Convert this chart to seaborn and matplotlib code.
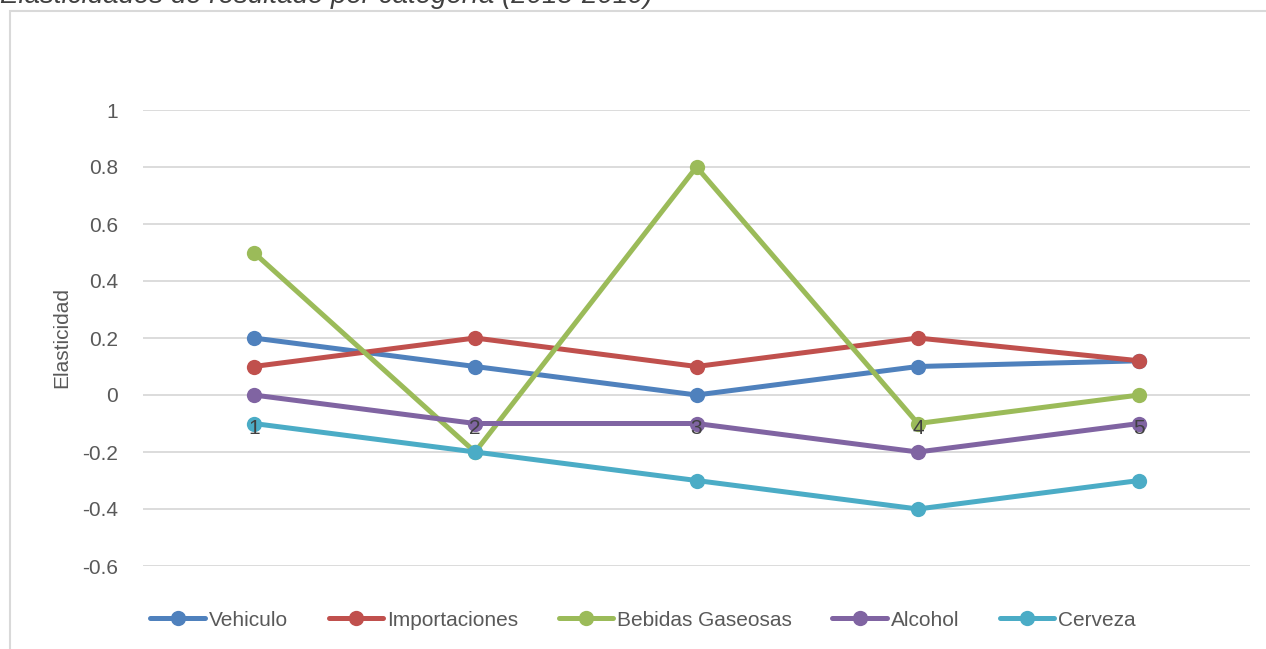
import pandas as pd
import matplotlib.pyplot as plt
import seaborn as sns
from matplotlib.patches import Rectangle

# === DATA ===
periodos = [1, 2, 3, 4, 5]
vehiculo = [0.2, 0.1, 0.0, 0.1, 0.12]
importaciones = [0.1, 0.2, 0.1, 0.2, 0.12]
bebidas = [0.5, -0.2, 0.8, -0.1, 0.0]
alcohol = [0.0, -0.1, -0.1, -0.2, -0.1]
cerveza = [-0.1, -0.2, -0.3, -0.4, -0.3]

series = ['Vehiculo', 'Importaciones', 'Bebidas Gaseosas', 'Alcohol', 'Cerveza']
colores = ['#4F81BD', '#C0504D', '#9BBB59', '#8064A2', '#4BACC6']
y_ticks = [-0.6, -0.4, -0.2, 0, 0.2, 0.4, 0.6, 0.8, 1]
y_labels = ['-0.6', '-0.4', '-0.2', '0', '0.2', '0.4', '0.6', '0.8', '1']

df = pd.DataFrame({
    'Periodo': periodos * 5,
    'Elasticidad': vehiculo + importaciones + bebidas + alcohol + cerveza,
    'Serie': [s for s in series for _ in periodos],
})

# === PLOT ===
sns.set_style('white')
plt.rcParams['font.family'] = ['Liberation Sans', 'DejaVu Sans']

fig = plt.figure(figsize=(12.66, 6.49), dpi=100)
ax = fig.add_axes([143 / 1266, 1 - 566 / 649, (1250 - 143) / 1266, (566 - 110) / 649])

# chart border (light gray frame)
fig.patches.append(Rectangle((9.5 / 1266, -0.1), 1.2, 1 - 11 / 649 + 0.1,
                             transform=fig.transFigure, fill=False,
                             edgecolor='#D9D9D9', linewidth=1.5, zorder=0))

# title, cut off by the top edge as in the source image
fig.text(0.0, 1 - 3 / 649, 'Elasticidades de resultado por categoría (2015-2019)',
         fontsize=20, style='italic', color='#404040', ha='left', va='baseline')

sns.lineplot(data=df, x='Periodo', y='Elasticidad', hue='Serie', hue_order=series,
             palette=colores, marker='o', markersize=11, markeredgewidth=0,
             linewidth=3.6, ax=ax, legend=False)

ax.set_xlim(0.5, 5.5)
ax.set_ylim(-0.6, 1.0)
ax.set_yticks(y_ticks)
ax.set_yticklabels(y_labels)
ax.set_xticks([])
ax.set_xlabel('')
ax.set_ylabel('Elasticidad', fontsize=15, color='#595959', labelpad=8)
ax.tick_params(axis='y', labelsize=15, labelcolor='#595959', length=0, pad=18)
ax.grid(axis='y', color='#D9D9D9', linewidth=1.3)
ax.set_axisbelow(True)
for s in ax.spines.values():
    s.set_visible(False)

# category labels next to the horizontal axis (crosses at 0)
for p in periodos:
    ax.annotate(str(p), (p, 0), xytext=(0, -17), textcoords='offset points',
                ha='center', va='top', fontsize=15, color='#404040', zorder=10)

handles = [plt.Line2D([], [], color=c, linewidth=3.6, marker='o', markersize=11,
                      markeredgewidth=0) for c in colores]
fig.legend(handles, series, loc='center', bbox_to_anchor=(0.508, 1 - 620 / 649),
           ncol=5, frameon=False, fontsize=15, handlelength=2.6, columnspacing=1.95,
           handletextpad=0.2, labelcolor='#595959')

fig.savefig('out.png', dpi=100)
